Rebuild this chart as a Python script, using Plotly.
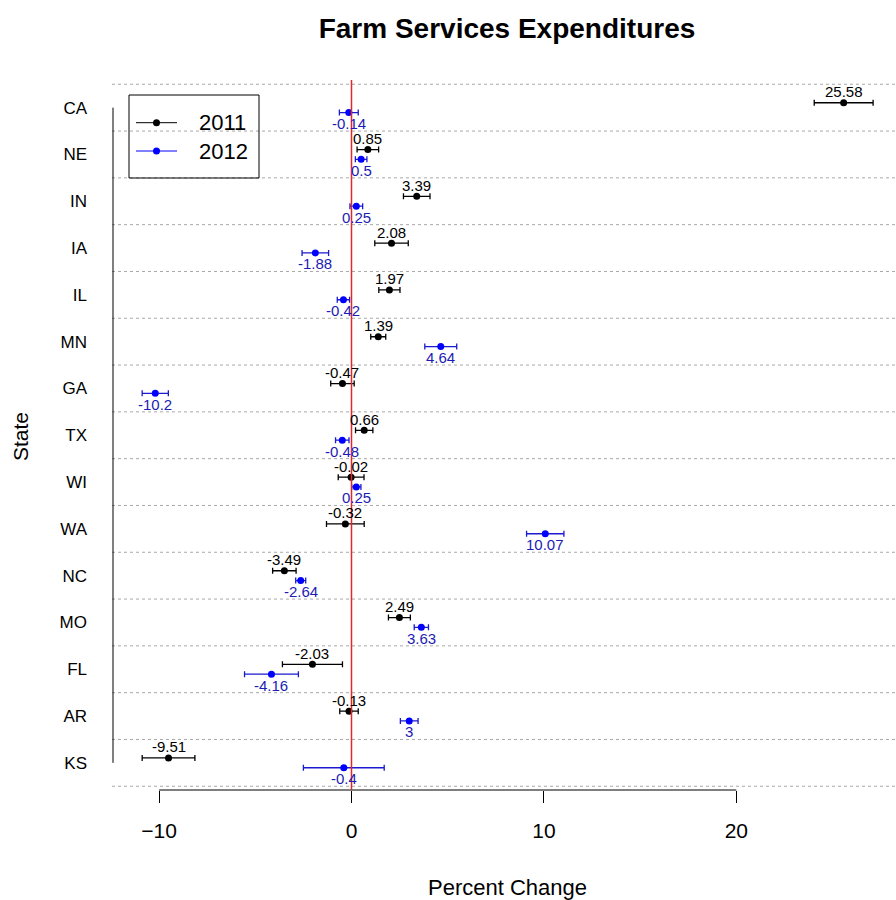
import plotly.graph_objects as go

# ---- data -------------------------------------------------------------
states = ["CA", "NE", "IN", "IA", "IL", "MN", "GA", "TX", "WI", "WA",
          "NC", "MO", "FL", "AR", "KS"]
years = ["2011", "2012"]
pct_2011 = [25.58, 0.85, 3.39, 2.08, 1.97, 1.39, -0.47, 0.66, -0.02, -0.32,
            -3.49, 2.49, -2.03, -0.13, -9.51]
err_2011 = [1.53, 0.56, 0.69, 0.87, 0.55, 0.39, 0.61, 0.45, 0.67, 0.98,
            0.61, 0.57, 1.56, 0.48, 1.37]
pct_2012 = [-0.14, 0.5, 0.25, -1.88, -0.42, 4.64, -10.2, -0.48, 0.25, 10.07,
            -2.64, 3.63, -4.16, 3, -0.4]
err_2012 = [0.49, 0.30, 0.33, 0.69, 0.32, 0.83, 0.68, 0.35, 0.24, 0.97,
            0.26, 0.37, 1.40, 0.46, 2.10]
x_ticks = [-10, 0, 10, 20]

# ---- layout constants -------------------------------------------------
W, H = 896, 900
ML, MR, MT, MB = 112, 0, 80, 110
PW, PH = W - ML - MR, H - MT - MB
FONT = "Liberation Sans, Arial, sans-serif"
BLACK = "#000000"
BLUE = "#0000ff"
BLUE_TXT = "#1c1cb4"
RED = "#e02828"
GRID = "#a8a8a8"

n = len(states)
pos = [n - i for i in range(n)]          # first state at the top
OFF = 0.105                              # vertical split between the years


def px_x(p):
    return (p - ML) / PW


def px_y(p):
    return (MT + PH - p) / PH


fig = go.Figure()

series = [
    (years[0], pct_2011, err_2011, +OFF, BLACK, BLACK, BLACK, 11),
    (years[1], pct_2012, err_2012, -OFF, BLUE, "#1a1ad0", BLUE_TXT, -11),
]
for name, vals, errs, off, mcol, ecol, tcol, shift in series:
    ys = [p + off for p in pos]
    fig.add_trace(go.Scatter(
        x=vals, y=ys, mode="markers", name=name, showlegend=False,
        marker=dict(color=mcol, size=7),
        error_x=dict(type="data", array=errs, symmetric=True,
                     color=ecol, thickness=1.3, width=3),
        hovertemplate="%{x}<extra>" + name + "</extra>",
    ))
    for v, y in zip(vals, ys):
        fig.add_annotation(x=v, y=y, text=f"{v:g}", showarrow=False,
                           yshift=shift,
                           font=dict(size=15, color=tcol, family=FONT))

shapes = []
# dashed separators between states
for k in range(n + 1):
    shapes.append(dict(type="line", xref="paper", x0=0, x1=1,
                       yref="y", y0=k + 0.5, y1=k + 0.5, layer="below",
                       line=dict(color=GRID, width=1, dash="3px,3px")))
# axis lines drawn between the first and last ticks
shapes.append(dict(type="line", xref="x", x0=x_ticks[0], x1=x_ticks[-1],
                   yref="paper", y0=0, y1=0, line=dict(color=BLACK, width=1)))
shapes.append(dict(type="line", xref="paper", x0=px_x(113), x1=px_x(113),
                   yref="y", y0=pos[-1], y1=pos[0],
                   line=dict(color=BLACK, width=1)))
# reference line at zero change
shapes.append(dict(type="line", xref="x", x0=0, x1=0, yref="paper", y0=0, y1=1,
                   layer="above", line=dict(color=RED, width=1.5)))

# legend box
shapes.append(dict(type="rect", xref="paper", yref="paper",
                   x0=px_x(129), x1=px_x(259), y0=px_y(95), y1=px_y(178),
                   line=dict(color=BLACK, width=1), fillcolor="rgba(0,0,0,0)"))
for label, col, row_y in [(years[0], BLACK, 122.7), (years[1], BLUE, 151)]:
    shapes.append(dict(type="line", xref="paper", yref="paper",
                       x0=px_x(136), x1=px_x(177), y0=px_y(row_y), y1=px_y(row_y),
                       line=dict(color=col, width=1)))
    shapes.append(dict(type="circle", xref="paper", yref="paper",
                       xsizemode="pixel", ysizemode="pixel",
                       xanchor=px_x(156.5), yanchor=px_y(row_y),
                       x0=-3.5, x1=3.5, y0=-3.5, y1=3.5,
                       fillcolor=col, line=dict(color=col, width=0)))
    fig.add_annotation(xref="paper", yref="paper", x=px_x(197), y=px_y(row_y),
                       xanchor="left", yanchor="middle", showarrow=False,
                       text=label, font=dict(size=22, color=BLACK, family=FONT))

# axis titles
fig.add_annotation(xref="paper", yref="paper", x=px_x(508), y=px_y(887),
                   xanchor="center", yanchor="middle", showarrow=False,
                   text="Percent Change", font=dict(size=22, color=BLACK, family=FONT))
fig.add_annotation(xref="paper", yref="paper", x=px_x(20), y=px_y(437),
                   xanchor="center", yanchor="middle", showarrow=False,
                   textangle=-90,
                   text="State", font=dict(size=21, color=BLACK, family=FONT))

fig.update_layout(
    width=W, height=H,
    margin=dict(l=ML, r=MR, t=MT, b=MB, pad=0),
    paper_bgcolor="white", plot_bgcolor="white",
    font=dict(family=FONT, color=BLACK),
    showlegend=False,
    title=dict(text="Farm Services Expenditures", x=px_x(507), xref="paper",
               xanchor="center", y=1 - 28 / H, yref="container",
               yanchor="middle",
               font=dict(size=28, color=BLACK, family=FONT, weight="bold")),
    shapes=shapes,
    xaxis=dict(range=[(ML - 351.5) / 19.24, (W - MR - 351.5) / 19.24],
               tickvals=x_ticks, ticks="outside", ticklen=12, tickwidth=1,
               tickcolor=BLACK, showline=False, showgrid=False,
               zeroline=False, ticklabelstandoff=10,
               tickfont=dict(size=21, color=BLACK, family=FONT)),
    yaxis=dict(range=[0.42, 0.42 + PH / 46.8],
               tickvals=pos, ticktext=states, ticks="",
               showline=False, showgrid=False, zeroline=False,
               ticklabelstandoff=24,
               tickfont=dict(size=17, color=BLACK, family=FONT)),
)

fig.write_html("out.html")
